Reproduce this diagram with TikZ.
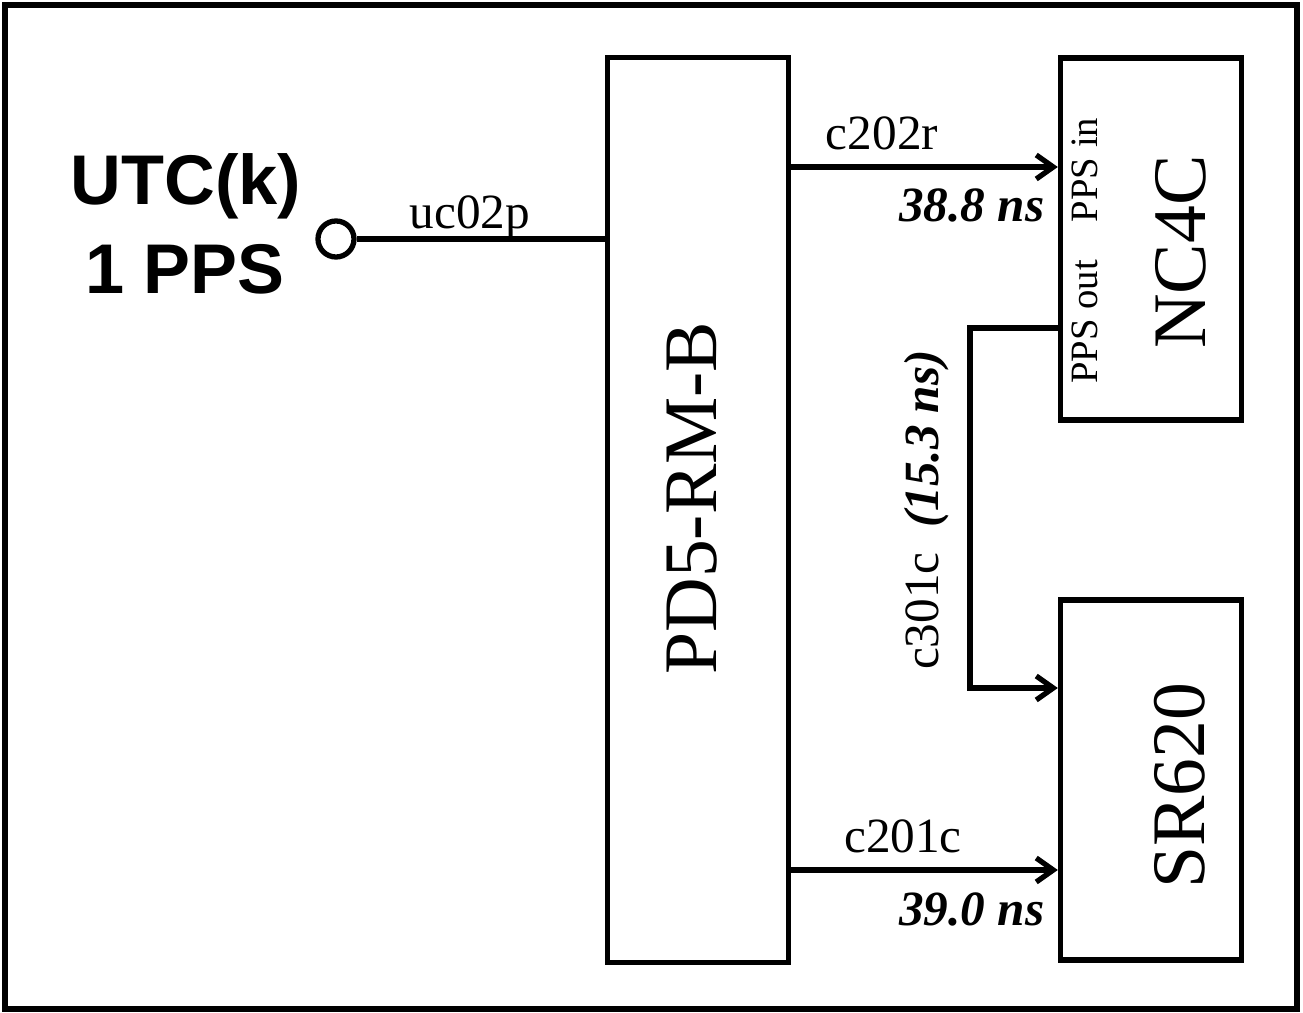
\documentclass[tikz,border=0pt]{standalone}
\usepackage{fontspec}
\setmainfont{Liberation Serif}
\setsansfont{Liberation Sans}
\usetikzlibrary{arrows.meta}

\begin{document}
\begin{tikzpicture}[x=0.01cm,y=-0.01cm,
    box/.style={draw,line width=1.5pt,minimum width=1.81cm,inner sep=0pt},
    wire/.style={line width=1.5pt},
    sig/.style={wire,-{Straight Barb[length=1.7mm,width=2.4mm]}},
    big/.style={rotate=90,inner sep=0pt,font=\fontsize{21.5}{24}\selectfont},
    port/.style={rotate=90,inner sep=0pt,font=\fontsize{11}{13}\selectfont},
    lbl/.style={anchor=base,inner sep=0pt,font=\fontsize{14}{16}\selectfont},
    val/.style={anchor=base east,inner sep=0pt,font=\fontsize{14}{16}\selectfont\bfseries\itshape}]
  \useasboundingbox (0,0) rectangle (1303,1013);
  \draw[line width=1.6pt] (5,5) rectangle (1297,1009);
  % source
  \node[lbl,font=\sffamily\bfseries\fontsize{20}{24}\selectfont] (utc) at (186,205) {UTC(k)};
  \node[lbl,font=\sffamily\bfseries\fontsize{20}{24}\selectfont] (pps) at (185,294) {1 PPS};
  \node[circle,draw,line width=1.5pt,minimum size=0.36cm,inner sep=0pt] (src) at (336,239) {};
  % instruments
  \node[box,minimum height=9.04cm] (pd5) at (698,510) {};
  \node[box,minimum height=3.62cm] (nc4c) at (1151,239) {};
  \node[box,minimum height=3.60cm] (sr620) at (1151,780) {};
  \node[big] (pd5txt) at (692,498) {PD5-RM-B};
  \node[big] (nc4ctxt) at (1181,252) {NC4C};
  \node[big] (sr620txt) at (1180,786) {SR620};
  \node[port] (ppsin) at (1085,170) {PPS in};
  \node[port] (ppsout) at (1085,322) {PPS out};
  % port points
  \coordinate (inp) at (nc4c.west |- 0,167);
  \coordinate (outp) at (nc4c.west |- 0,328);
  \coordinate (srup) at (sr620.west |- 0,688);
  \coordinate (srdn) at (sr620.west |- 0,870);
  % cables
  \draw[wire] (src) -- (src -| pd5.west);
  \draw[sig] (pd5.east |- inp) -- (inp);
  \draw[sig] (pd5.east |- srdn) -- (srdn);
  \draw[sig] (outp) -- (970,328) -- (970,688) -- (srup);
  \node[lbl] (uc) at (470,229) {uc02p};
  \node[lbl] (c202) at (882,150) {c202r};
  \node[val] (d202) at (1045,222) {38.8 ns};
  \node[lbl] (c201) at (903,852) {c201c};
  \node[val] (d201) at (1045,925) {39.0 ns};
  \node[lbl,rotate=90] (c301) at (938,510) {c301c\ \ \textbf{\textit{(15.3 ns)}}};
\end{tikzpicture}
\end{document}
